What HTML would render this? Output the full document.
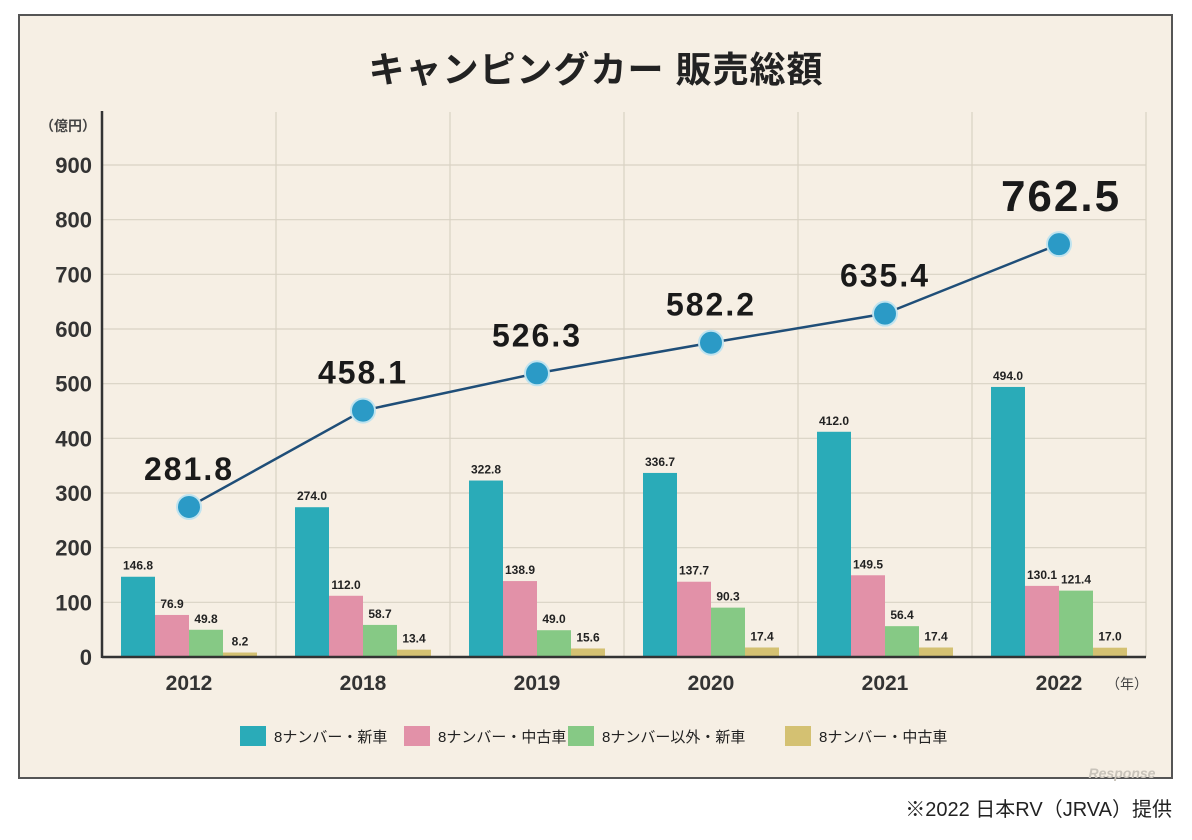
<!DOCTYPE html>
<html><head><meta charset="utf-8">
<style>
body{margin:0;background:#fff;width:1192px;height:840px;overflow:hidden;font-family:"Liberation Sans","Noto Sans CJK JP",sans-serif;}
#frame{position:absolute;left:18px;top:14px;width:1155px;height:765px;background:#f6efe4;border:2px solid #555;box-sizing:border-box;}
svg{position:absolute;left:0;top:0}
</style></head><body>
<div id="frame"></div>
<svg id="chart" width="1192" height="840"></svg>
<script>
const categories=["2012","2018","2019","2020","2021","2022"];
const newCars8=[146.8,274.0,322.8,336.7,412.0,494.0];
const usedCars8=[76.9,112.0,138.9,137.7,149.5,130.1];
const newOther=[49.8,58.7,49.0,90.3,56.4,121.4];
const usedOther=[8.2,13.4,15.6,17.4,17.4,17.0];
const totals=[281.8,458.1,526.3,582.2,635.4,762.5];
const yTicks=[0,100,200,300,400,500,600,700,800,900];
const seriesNames=["8ナンバー・新車","8ナンバー・中古車","8ナンバー以外・新車","8ナンバー・中古車"];

const svg=document.getElementById('chart');
const NS='http://www.w3.org/2000/svg';
const x0=102,catW=174,y0=657,pxPer=492/900,barW=34,lineOff=4;
const colors=["#2aabb8","#e291a8","#86c985","#d4c172"];
const series=[newCars8,usedCars8,newOther,usedOther];
const yS=v=>y0-v*pxPer;
const xC=i=>x0+catW*i+catW/2;
function mk(t,a,p){const e=document.createElementNS(NS,t);for(const k in a)e.setAttribute(k,a[k]);(p||svg).appendChild(e);return e;}
function tx(s,x,y,size,w,anchor,fill){const e=mk('text',{x:x,y:y,'font-size':size,'font-weight':w,'text-anchor':anchor||'middle',fill:fill||'#222'});e.textContent=s;return e;}

let t=tx("キャンピングカー 販売総額",596,82,36,'bold');


t.setAttribute('letter-spacing','1');
t=tx("（億円）",68,131,14,'bold','middle','#444');



yTicks.forEach(v=>{
  if(v>0){const g=mk('line',{x1:x0,x2:1146,y1:yS(v),y2:yS(v),stroke:'#d9d2c4','stroke-width':1.2});
  
  }
  const l=tx(String(v),92,yS(v)+8,22,'bold','end','#333');
  
  
});
for(let i=1;i<=categories.length;i++){
  const g=mk('line',{x1:x0+catW*i,x2:x0+catW*i,y1:112,y2:y0,stroke:'#d9d2c4','stroke-width':1.2});
  
  
}
categories.forEach((c,i)=>{
  series.forEach((s,k)=>{
    const bx=xC(i)-68+k*barW;
    const r=mk('rect',{x:bx,y:yS(s[i]),width:barW,height:s[i]*pxPer,fill:colors[k]});
    
    
    const l=tx(s[i].toFixed(1),bx+barW/2,yS(s[i])-7,12,'bold');
    
    
  });
  const l=tx(c,xC(i),690,21,'bold','middle','#333');
  
  
});
let ax=mk('line',{x1:x0,x2:x0,y1:111,y2:y0+1,stroke:'#333','stroke-width':2.5});


ax=mk('line',{x1:x0,x2:1146,y1:y0,y2:y0,stroke:'#333','stroke-width':2.5});


t=tx("（年）",1127,689,14,'normal','middle','#444');



const pts=totals.map((v,i)=>xC(i)+','+(yS(v)+lineOff)).join(' ');
const pl=mk('polyline',{points:pts,fill:'none',stroke:'#1f4e78','stroke-width':2.5});


totals.forEach((v,i)=>{
  const c=mk('circle',{cx:xC(i),cy:yS(v)+lineOff,r:12,fill:'#2b9ac6',stroke:'#bfe3ef','stroke-width':2});
  
  
  const last=i===totals.length-1;
  const l=tx(v.toFixed(1),xC(i)+(last?2:0),yS(v)+lineOff-(last?33:27),last?44:32,'bold','middle','#1a1a1a');
  l.setAttribute('letter-spacing','2');
  
  
});

const lx=[240,404,568,785];
seriesNames.forEach((n,k)=>{
  const r=mk('rect',{x:lx[k],y:726,width:26,height:20,fill:colors[k]});
  
  
  const l=tx(n,lx[k]+34,742,15,'normal','start','#222');
  
  
});
t=tx("Response",1122,778,14,'bold','middle','#c8c3ba');
t.setAttribute('font-style','italic');


t=tx("※2022 日本RV（JRVA）提供",1172,816,20,'normal','end','#222');


</script>
</body></html>
